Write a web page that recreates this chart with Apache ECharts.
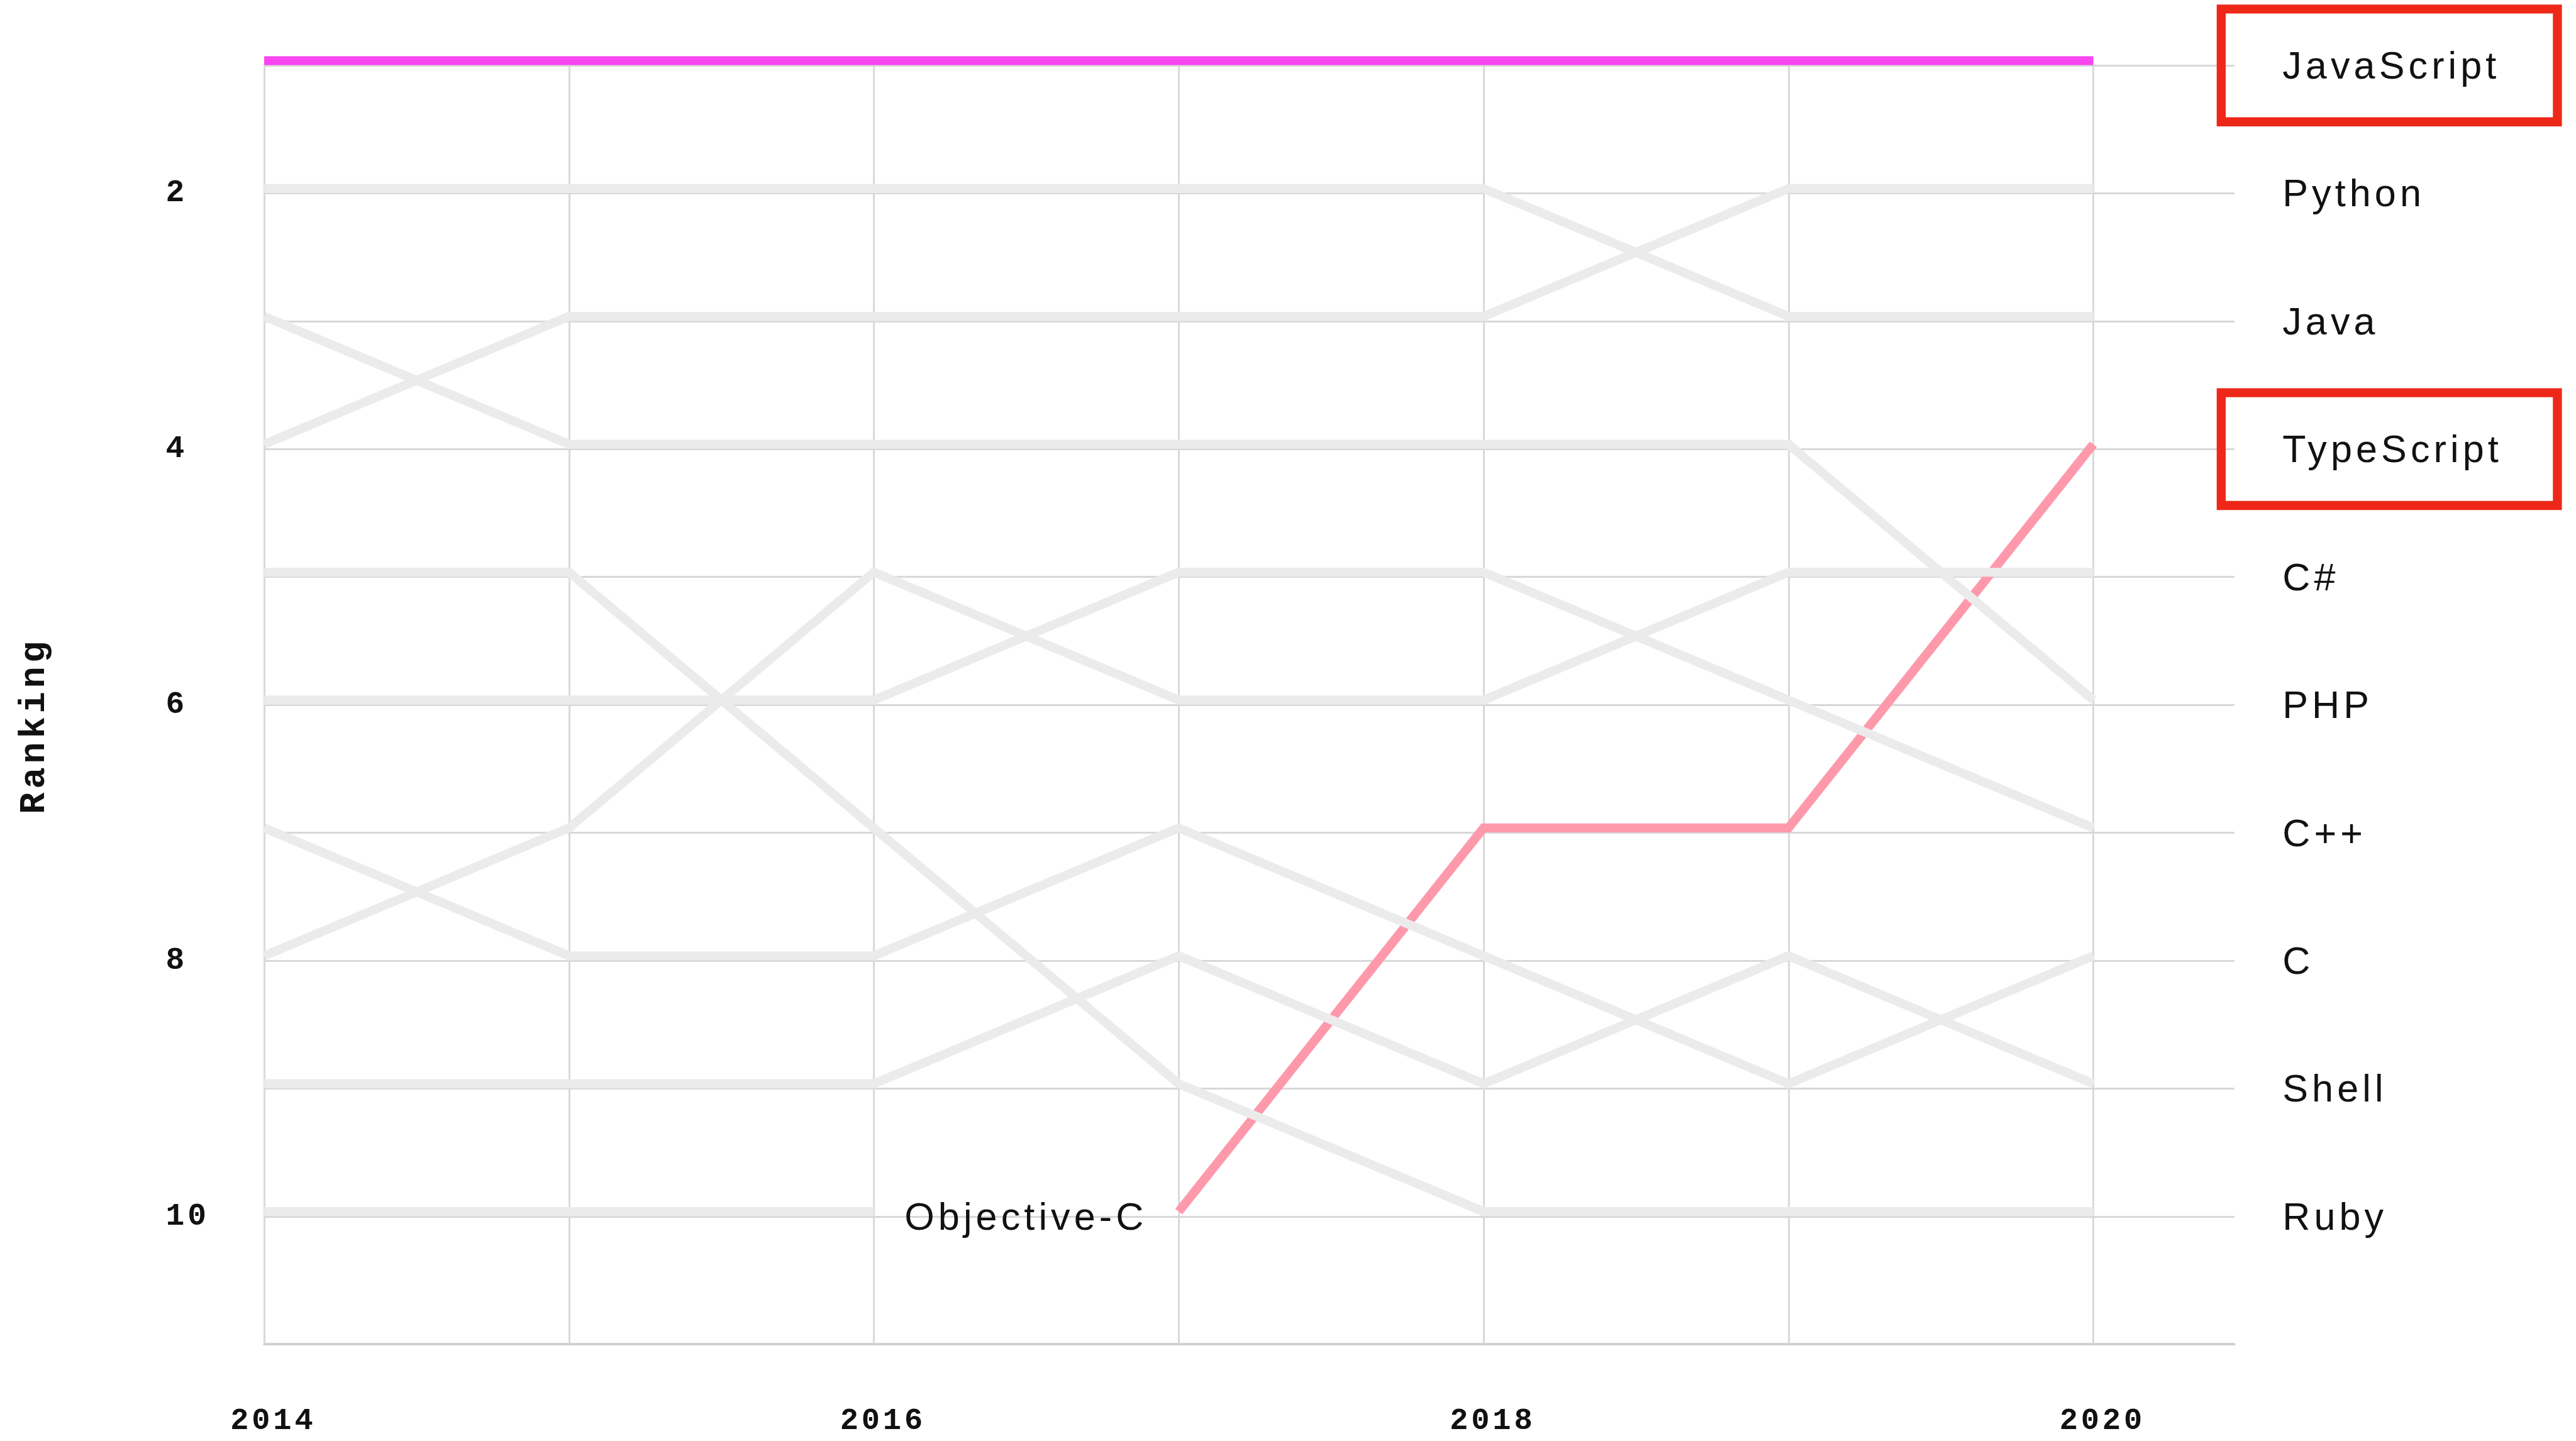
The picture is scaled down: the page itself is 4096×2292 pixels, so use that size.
<!DOCTYPE html>
<html><head><meta charset="utf-8">
<script src="https://cdn.jsdelivr.net/npm/echarts@6/dist/echarts.min.js"></script>
<style>
html,body{margin:0;padding:0;background:#fff;}
#c{width:4096px;height:2292px;}
#c svg text{letter-spacing:0.1em;}
</style></head>
<body><div id="c"></div>
<script>
// ---- data ----
const years = [2014, 2015, 2016, 2017, 2018, 2019, 2020];
const yearLabels = [2014, 2016, 2018, 2020];
const rankLabels = [2, 4, 6, 8, 10];
const languages = ['TypeScript', 'Objective-C', 'Ruby', 'Shell', 'C', 'C++', 'PHP', 'C#', 'Java', 'Python', 'JavaScript'];
const rankTypeScript = [null, null, null, 10, 7, 7, 4];
const rankObjectiveC = [10, 10, 10, null, null, null, null];
const rankRuby = [5, 5, 7, 9, 10, 10, 10];
const rankShell = [9, 9, 9, 8, 9, 8, 9];
const rankC = [7, 8, 8, 7, 8, 9, 8];
const rankCpp = [6, 6, 6, 5, 5, 6, 7];
const rankPHP = [3, 4, 4, 4, 4, 4, 6];
const rankCsharp = [8, 7, 5, 6, 6, 5, 5];
const rankJava = [2, 2, 2, 2, 2, 3, 3];
const rankPython = [4, 3, 3, 3, 3, 2, 2];
const rankJavaScript = [1, 1, 1, 1, 1, 1, 1];
const highlighted = ['JavaScript', 'TypeScript'];

const ranks = {
  'TypeScript': rankTypeScript, 'Objective-C': rankObjectiveC, 'Ruby': rankRuby,
  'Shell': rankShell, 'C': rankC, 'C++': rankCpp, 'PHP': rankPHP, 'C#': rankCsharp,
  'Java': rankJava, 'Python': rankPython, 'JavaScript': rankJavaScript
};
const colors = { 'JavaScript': '#f945f0', 'TypeScript': '#fe99ab' };
const grayLine = '#ebebeb';

// ---- layout (reference px scaled to window) ----
const W = 4096, H = 2292;
const S = W / 4291;
const px = v => v * S;

const lastYear = years[years.length - 1];
const finalNames = {};
languages.forEach(n => {
  const r = ranks[n][years.indexOf(lastYear)];
  if (r != null) finalNames[r] = n;
});

const seriesList = languages.map(n => {
  const data = [];
  years.forEach((y, i) => { if (ranks[n][i] != null) data.push([y, ranks[n][i]]); });
  const endsEarly = data[data.length - 1][0] !== lastYear;
  return {
    name: n, type: 'line', xAxisIndex: 2, yAxisIndex: 3,
    data: data, symbol: 'none', silent: true,
    lineStyle: { width: px(15), color: colors[n] || grayLine, cap: 'butt', join: 'miter' },
    endLabel: endsEarly ? {
      show: true, formatter: '{a}', distance: px(51), offset: [0, px(8)],
      fontFamily: 'Liberation Sans', fontSize: px(64), color: '#111'
    } : { show: false }
  };
});

const labelFont = { fontFamily: 'Liberation Sans', fontSize: px(64), color: '#111' };
const boxW = px(560), boxH = px(188), padL = px(102);

const option = {
  animation: false,
  backgroundColor: '#fff',
  grid: [
    { left: px(440), right: W - px(3722), top: px(109), bottom: H - px(2240) },
    { left: px(440), right: W - px(3487), top: px(109), bottom: H - px(2240) },
    { left: px(440), right: W - px(3487), top: px(101), bottom: H - px(2232) }
  ],
  xAxis: [
    { gridIndex: 0, type: 'value', min: 2014, max: 2021, axisLabel: { show: false }, axisTick: { show: false },
      splitLine: { show: false }, axisLine: { show: true, lineStyle: { color: '#d2d2d2', width: px(4) } } },
    { gridIndex: 1, type: 'value', min: 2014, max: 2020, interval: 1,
      axisLine: { show: false }, axisTick: { show: false },
      splitLine: { show: true, lineStyle: { color: '#d8d8d8', width: px(3) } },
      axisLabel: { formatter: v => yearLabels.includes(v) ? String(v) : '', margin: px(108),
        padding: [0, 0, 0, px(30)], lineHeight: px(40),
        fontFamily: 'Liberation Mono', fontWeight: 'bold', fontSize: px(51), color: '#111' } },
    { gridIndex: 2, type: 'value', min: 2014, max: 2020, show: false }
  ],
  yAxis: [
    { gridIndex: 0, type: 'value', min: 1, max: 11, interval: 1, inverse: true,
      axisLine: { show: false }, axisTick: { show: false },
      splitLine: { show: true, lineStyle: { color: '#d8d8d8', width: px(3) } },
      axisLabel: { formatter: v => rankLabels.includes(v) ? String(v) : '', align: 'left', margin: px(164),
        fontFamily: 'Liberation Mono', fontWeight: 'bold', fontSize: px(52), color: '#111' },
      name: 'Ranking', nameLocation: 'middle', nameGap: px(353),
      nameTextStyle: { fontFamily: 'Liberation Mono', fontWeight: 'bold', fontSize: px(60), color: '#111',
        padding: [0, px(70), 0, 0] } },
    { gridIndex: 0, type: 'value', min: 1, max: 11, interval: 1, inverse: true, position: 'right',
      axisLine: { show: false }, axisTick: { show: false }, splitLine: { show: false },
      axisLabel: {
        margin: px(3700 - 3722), align: 'left',
        formatter: v => { const n = finalNames[v]; if (!n) return ''; return (highlighted.includes(n) ? '{b|' : '{n|') + n + '}'; },
        rich: {
          b: Object.assign({ width: boxW - padL, height: boxH, lineHeight: boxH, padding: [0, 0, 0, padL],
            align: 'left', borderColor: '#ee2818', borderWidth: px(15) }, labelFont),
          n: Object.assign({ width: boxW - padL, height: boxH, lineHeight: boxH, padding: [0, 0, 0, padL],
            align: 'left' }, labelFont)
        }
      } },
    { gridIndex: 1, type: 'value', min: 1, max: 11, inverse: true, show: false },
    { gridIndex: 2, type: 'value', min: 1, max: 11, inverse: true, show: false }
  ],
  series: seriesList
};

const chart = echarts.init(document.getElementById('c'), null, { renderer: 'svg', width: W, height: H });
chart.setOption(option);
</script>
</body></html>
